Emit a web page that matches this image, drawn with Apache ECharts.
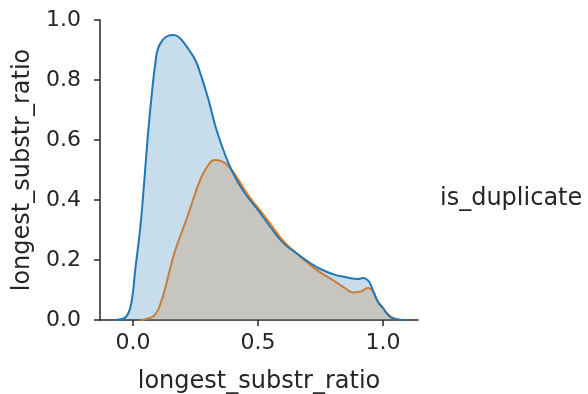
<!DOCTYPE html>
<html>
<head>
<meta charset="utf-8">
<script src="https://cdn.jsdelivr.net/npm/echarts@6/dist/echarts.min.js"></script>
<style>html,body{margin:0;padding:0;background:#fff;}#c{width:588px;height:394px;}</style>
</head>
<body>
<div id="c"></div>
<script>
// KDE of longest_substr_ratio, is_duplicate = 0 (blue)
const blueX = [-0.072,-0.04,-0.02,-0.004,0.008,0.028,0.04,0.06,0.076,0.09,0.1,0.12,0.14,0.16,0.18,0.2,0.22,0.25,0.27,0.3,0.33,0.36,0.4,0.45,0.5,0.55,0.6,0.65,0.7,0.75,0.8,0.85,0.9,0.92,0.94,0.956,0.98,1.0,1.02,1.04,1.08];
const blueY = [0,0.004,0.02,0.07,0.16,0.30,0.41,0.62,0.76,0.86,0.905,0.935,0.947,0.95,0.945,0.928,0.905,0.865,0.82,0.74,0.645,0.57,0.49,0.42,0.367,0.31,0.258,0.225,0.195,0.17,0.153,0.143,0.137,0.14,0.132,0.107,0.06,0.04,0.017,0.005,0];
// KDE of longest_substr_ratio, is_duplicate = 1 (orange)
const orangeX = [0.03,0.068,0.09,0.108,0.13,0.148,0.17,0.196,0.22,0.24,0.268,0.3,0.33,0.36,0.39,0.42,0.45,0.48,0.5,0.55,0.6,0.65,0.7,0.75,0.8,0.85,0.88,0.91,0.94,0.96,0.976,1.0,1.016,1.04,1.07];
const orangeY = [0,0.007,0.02,0.05,0.11,0.17,0.235,0.295,0.35,0.40,0.465,0.515,0.533,0.527,0.505,0.47,0.43,0.395,0.375,0.32,0.265,0.225,0.19,0.158,0.133,0.105,0.092,0.095,0.107,0.095,0.067,0.04,0.023,0.007,0];
const xTicks = [0, 0.5, 1.0];
const yTicks = [0, 0.2, 0.4, 0.6, 0.8, 1.0];
const xName = 'longest_substr_ratio';
const yName = 'longest_substr_ratio';
const legendTitle = 'is_duplicate';

const pair = (xs, ys) => xs.map((x, i) => [x, ys[i]]);
const ink = '#262626';
const font = 'DejaVu Sans';

const chart = echarts.init(document.getElementById('c'), null, {renderer: 'canvas'});
chart.setOption({
  animation: false,
  backgroundColor: '#fff',
  textStyle: {fontFamily: font},
  grid: {left: 100, right: 170, top: 20, bottom: 74, containLabel: false, outerBoundsMode: 'none'},
  xAxis: {
    type: 'value', min: -0.132, max: 1.14,
    name: xName, nameLocation: 'middle', nameGap: 50,
    nameTextStyle: {fontSize: 24, color: ink, fontFamily: font},
    axisLine: {show: true, onZero: false, lineStyle: {color: ink, width: 1.5}},
    axisTick: {show: true, length: 6, lineStyle: {color: ink, width: 1.5}, customValues: xTicks},
    axisLabel: {fontSize: 22, color: ink, margin: 12, fontFamily: font, customValues: xTicks,
      formatter: v => v.toFixed(1)},
    splitLine: {show: false}
  },
  yAxis: {
    type: 'value', min: 0, max: 1, interval: 0.2,
    name: yName, nameLocation: 'middle', nameGap: 64,
    nameTextStyle: {fontSize: 24, color: ink, fontFamily: font},
    axisLine: {show: true, onZero: false, lineStyle: {color: ink, width: 1.5}},
    axisTick: {show: true, length: 6, lineStyle: {color: ink, width: 1.5}},
    axisLabel: {fontSize: 22, color: ink, margin: 19, fontFamily: font,
      formatter: v => v.toFixed(1)},
    splitLine: {show: false}
  },
  graphic: [{
    type: 'text', left: 440, top: 187,
    style: {text: legendTitle, fontSize: 24, fill: ink, fontFamily: font}
  }],
  series: [
    {
      type: 'line', data: pair(orangeX, orangeY), smooth: 0.5,
      showSymbol: false, lineStyle: {color: '#ff7f0e', width: 2}, itemStyle: {color: '#ff7f0e'},
      areaStyle: {color: '#ff7f0e', opacity: 0.25}, z: 2
    },
    {
      type: 'line', data: pair(blueX, blueY), smooth: 0.5,
      showSymbol: false, lineStyle: {color: '#1f77b4', width: 2}, itemStyle: {color: '#1f77b4'},
      areaStyle: {color: '#1f77b4', opacity: 0.25}, z: 3
    }
  ]
});
</script>
</body>
</html>
